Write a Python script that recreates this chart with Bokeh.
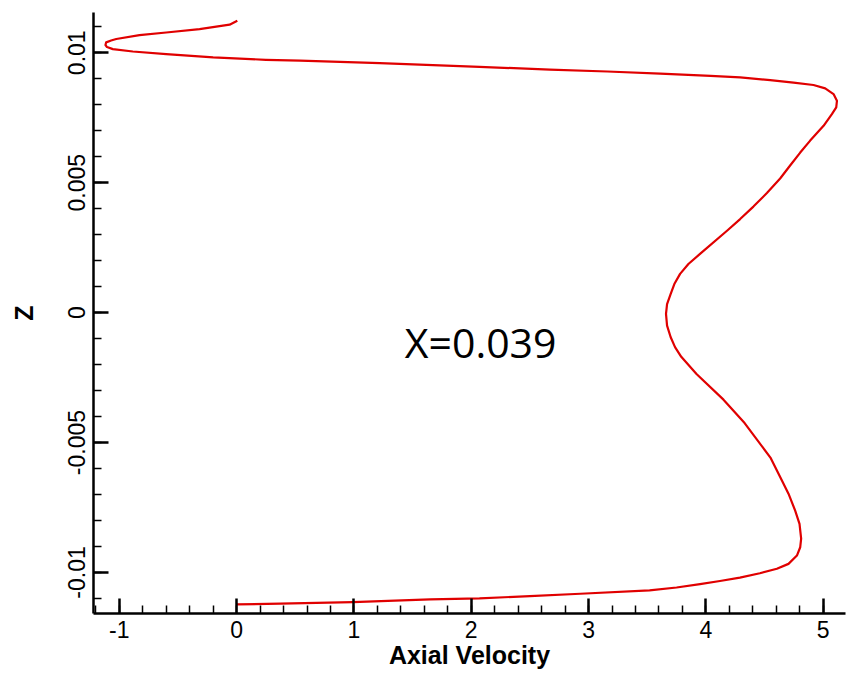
from bokeh.plotting import figure
from bokeh.models import FixedTicker, Label, ColumnDataSource
from bokeh.embed import file_html
from bokeh.resources import INLINE

# ---- data (Axial Velocity vs Z) ----
axial_velocity = [
    0.0, 0.37, 0.99, 1.65, 2.07, 2.5, 2.93, 3.52, 3.75, 3.95, 4.12, 4.29, 4.46,
    4.605, 4.704, 4.776, 4.804, 4.812, 4.798, 4.761, 4.704, 4.648, 4.55, 4.33,
    4.15, 3.92, 3.79, 3.737, 3.70, 3.669, 3.66, 3.669, 3.70, 3.731, 3.78,
    3.851, 3.95, 4.18, 4.292, 4.405, 4.52,
    4.633, 4.718, 4.804, 4.889, 5.003, 5.074, 5.111, 5.117, 5.088, 5.017,
    4.917, 4.747, 4.548, 4.292, 4.04, 3.61, 3.16, 2.67, 2.07, 1.22, 0.54, 0.25,
    -0.20, -0.60, -0.885, -1.055, -1.105, -1.118, -1.112, -1.07, -1.026,
    -0.828, -0.60, -0.316, -0.06, 0.006,
]
z_pos = [
    -0.01123, -0.0112, -0.01114, -0.01104, -0.0110, -0.01091, -0.01082,
    -0.01069, -0.01058, -0.01045, -0.01033, -0.0102, -0.01003, -0.00986,
    -0.00967, -0.00935, -0.00903, -0.0087, -0.00813, -0.00762, -0.00697,
    -0.00646, -0.00558, -0.00425, -0.00335, -0.00236, -0.0017, -0.00133,
    -0.00095, -0.0005, -0.00005, 0.00033, 0.00072, 0.0011, 0.00149, 0.00187,
    0.00226, 0.00315, 0.0036, 0.00408, 0.0046,
    0.00516, 0.00566, 0.00616, 0.00662, 0.00719, 0.00764, 0.0079, 0.00815,
    0.00841, 0.00863, 0.00876, 0.00885, 0.00895, 0.00905, 0.00911, 0.0092,
    0.00928, 0.00935, 0.00946, 0.0096, 0.0097, 0.00973, 0.00982, 0.00995,
    0.01005, 0.01014, 0.01022, 0.0103, 0.0104, 0.01047, 0.01053, 0.01068,
    0.01078, 0.01091, 0.01108, 0.01123,
]

x_ticks = [-1, 0, 1, 2, 3, 4, 5]
x_tick_labels = ["-1", "0", "1", "2", "3", "4", "5"]
y_ticks = [-0.01, -0.005, 0.0, 0.005, 0.01]
y_tick_labels = ["-0.01", "-0.005", "0", "0.005", "0.01"]
x_minor = [round(-1.2 + 0.2 * i, 1) for i in range(33)]
y_minor = [round(-0.011 + 0.001 * i, 3) for i in range(23)]

annotation_text = "X=0.039"
annotation_x = 2.08
annotation_z = -0.00112

src = ColumnDataSource(dict(u=axial_velocity, z=z_pos))

p = figure(width=850, height=675, output_backend="svg", toolbar_location=None,
           x_range=(-1.22, 5.19), y_range=(-0.01158, 0.01155),
           min_border_left=93, min_border_right=5, min_border_top=12,
           min_border_bottom=62)
p.outline_line_color = None
p.xgrid.visible = False
p.ygrid.visible = False
p.background_fill_color = "white"
p.border_fill_color = "white"

p.line("u", "z", source=src, line_color="#e00000", line_width=2.2,
       line_join="round")

p.xaxis.ticker = FixedTicker(ticks=x_ticks, minor_ticks=x_minor)
p.yaxis.ticker = FixedTicker(ticks=y_ticks, minor_ticks=y_minor)
p.xaxis.major_label_overrides = {t: l for t, l in zip(x_ticks, x_tick_labels)}
p.yaxis.major_label_overrides = {t: l for t, l in zip(y_ticks, y_tick_labels)}

for ax in (p.xaxis, p.yaxis):
    ax.axis_line_color = "black"
    ax.axis_line_width = 2.5
    ax.major_tick_line_color = "black"
    ax.major_tick_line_width = 2.5
    ax.minor_tick_line_color = "black"
    ax.minor_tick_line_width = 1.5
    ax.major_tick_in = 15
    ax.major_tick_out = 0
    ax.minor_tick_in = 8
    ax.minor_tick_out = 0
    ax.major_label_text_font = "Liberation Sans"
    ax.major_label_text_font_size = "23px"
    ax.major_label_text_color = "black"
    ax.axis_label_text_font = "Liberation Sans"
    ax.axis_label_text_font_size = "25px"
    ax.axis_label_text_font_style = "bold"
    ax.axis_label_text_color = "black"

p.xaxis.axis_label = "Axial Velocity"
p.yaxis.axis_label = "Z"
p.xaxis.major_label_standoff = 7
p.xaxis.axis_label_standoff = 0
p.yaxis.major_label_orientation = "vertical"
p.yaxis.major_label_standoff = 8
p.yaxis.axis_label_standoff = 28

p.add_layout(Label(x=annotation_x, y=annotation_z, text=annotation_text,
                   text_font="Open Sans", text_font_size="41px",
                   text_align="center", text_baseline="alphabetic",
                   text_color="black"))

open("out.html", "w").write(file_html(p, INLINE))
